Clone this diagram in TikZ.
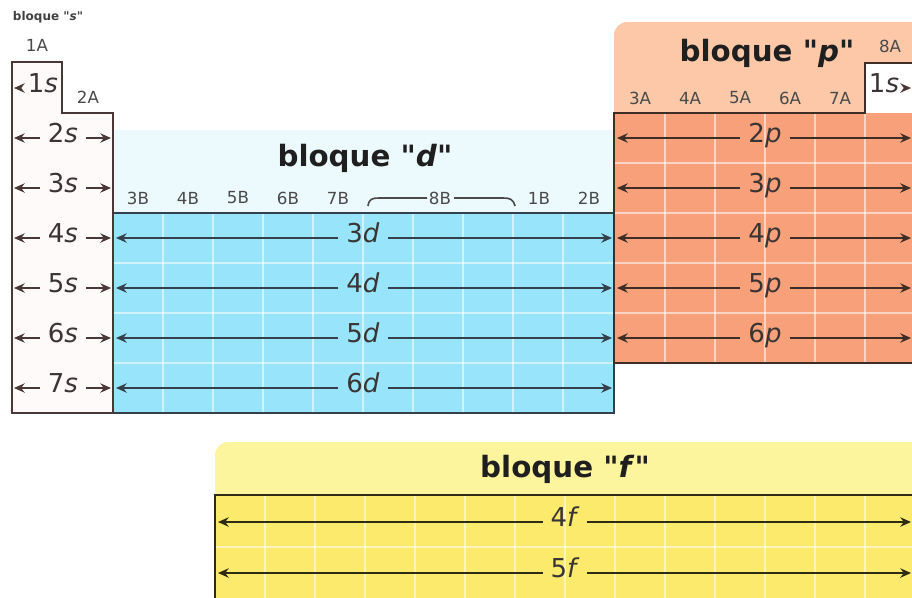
\documentclass[tikz,border=0pt]{standalone}
\usepackage{fontspec}
\setmainfont{DejaVu Sans}
\newfontfamily\dqfont{DejaVu Sans}
\usetikzlibrary{arrows.meta}
\newcommand\dqmark{{\dqfont\char34\relax}}
\definecolor{sline}{HTML}{4A3838}
\definecolor{dline}{HTML}{34414D}
\definecolor{pline}{HTML}{3E2E26}
\definecolor{fline}{HTML}{2E2A14}
\definecolor{dfill}{HTML}{98E4FA}
\definecolor{dhead}{HTML}{ECFAFE}
\definecolor{pfill}{HTML}{F8A07A}
\definecolor{phead}{HTML}{FCC8A8}
\definecolor{ffill}{HTML}{FBEA6C}
\definecolor{fhead}{HTML}{FDF59E}
\definecolor{labc}{HTML}{3A3434}
\definecolor{grpc}{HTML}{4A4A4A}
\begin{document}
\begin{tikzpicture}[x=0.75pt,y=-0.75pt,
  orb/.style={font=\fontsize{19.5}{19.5}\selectfont, text=labc, inner sep=0pt, outer sep=6pt, text height=0.73em, text depth=0pt},
  arrs/.style={line width=2.2pt, draw=sline, -{Stealth[length=8pt,width=7pt]}},
  arrd/.style={line width=2.2pt, draw=dline, -{Stealth[length=8pt,width=7pt]}},
  arrp/.style={line width=2.2pt, draw=pline, -{Stealth[length=8pt,width=7pt]}},
  arrf/.style={line width=2.2pt, draw=fline, -{Stealth[length=8pt,width=7pt]}},
  grp/.style={font=\fontsize{12.5}{12.5}\selectfont, text=grpc, inner sep=0pt},
  blocktitle/.style={font=\bfseries\fontsize{22}{22}\selectfont, text=black!88, inner sep=0pt},
  grid/.style={draw=white, opacity=0.55, line width=1pt},
  outline/.style={line width=2.2pt, line join=miter}]
\useasboundingbox (0,0) rectangle (912,597);
\clip (0,0) rectangle (912,597);
\fill[white] (0,0) rectangle (912,597);

% ---------- backgrounds ----------
\fill[dhead] (113,130) rectangle (614,213);
\fill[phead, rounded corners=10pt] (614,22) rectangle (940,140);
\fill[fhead, rounded corners=10pt] (215,442) rectangle (940,520);
\fill[dfill] (113,213) rectangle (614,413);
\fill[pfill] (614,113) rectangle (940,363);
\fill[ffill] (215,495) rectangle (940,620);
\fill[white!98!red] (12,62) -- (62,62) -- (62,113) -- (113,113) -- (113,413) -- (12,413) -- cycle;
\fill[white] (865,63) rectangle (940,113);

% ---------- grid lines ----------
\foreach \x in {163,213,...,563} \draw[grid] (\x,213) -- (\x,413);
\foreach \y in {263,313,363} \draw[grid] (113,\y) -- (614,\y);
\foreach \x in {665,715,765,815,865} \draw[grid] (\x,113) -- (\x,363);
\foreach \y in {163,213,263,313} \draw[grid] (614,\y) -- (915,\y);
\foreach \x in {265,315,...,865} \draw[grid] (\x,495) -- (\x,600);
\draw[grid] (215,547) -- (915,547);

% ---------- outlines ----------
\draw[outline, draw=sline] (12,62) -- (62,62) -- (62,113) -- (113,113) -- (113,413) -- (12,413) -- cycle;
\draw[outline, draw=dline] (113,213) -- (614,213) -- (614,413) -- (113,413);
\draw[outline, draw=pline] (940,363) -- (614,363) -- (614,113) -- (865,113) -- (865,63) -- (940,63);
\draw[outline, draw=fline] (215,610) -- (215,495) -- (940,495);

% ---------- titles and group labels ----------
\node[font=\bfseries\fontsize{9}{9}\selectfont, text=black!75, inner sep=0pt] (ts) at (48,17) {bloque \dqmark\textit{s}\dqmark};
\node[grp] (g1A) at (37,45) {1A};
\node[grp] (g2A) at (88,97) {2A};
\node[blocktitle] (td) at (365,158) {bloque \dqmark\textit{d}\dqmark};
\node[blocktitle] (tp) at (767,53) {bloque \dqmark\textit{p}\dqmark};
\node[blocktitle] (tf) at (565,469) {bloque \dqmark\textit{f}\dqmark};
\node[grp] (g8A) at (890,46) {8A};
\foreach \n/\x in {3A/640,4A/690,5A/740,6A/790,7A/840}
  \node[grp] (g\n) at (\x,98) {\n};
\foreach \n/\x in {3B/138,4B/188,5B/238,6B/288,7B/338,1B/539,2B/589}
  \node[grp] (g\n) at (\x,198) {\n};
\node[grp] (g8B) at (440,198) {8B};
\draw[line width=1.2pt, draw=grpc] (368,206) .. controls (369,199) and (372,198) .. (379,198) -- (427,198);
\draw[line width=1.2pt, draw=grpc] (454,198) -- (503,198) .. controls (510,198) and (513,199) .. (515,206);

% ---------- s block ----------
\node[orb] (s1) at (43,88) {1\textit{s}};
\coordinate (s1l) at (14,88);
\draw[arrs] (s1.west) -- (s1l);
\foreach \r/\n in {138/2,188/3,238/4,288/5,338/6,388/7}{
  \node[orb] (s\n) at (63,\r) {\n\textit{s}};
  \coordinate (s\n l) at (14,\r);
  \coordinate (s\n r) at (111,\r);
  \draw[arrs] (s\n.west) -- (s\n l);
  \draw[arrs] (s\n.east) -- (s\n r);
}

% ---------- d block ----------
\foreach \r/\n in {238/3,288/4,338/5,388/6}{
  \node[orb] (d\n) at (363,\r) {\n\textit{d}};
  \coordinate (d\n l) at (116,\r);
  \coordinate (d\n r) at (612,\r);
  \draw[arrd] (d\n.west) -- (d\n l);
  \draw[arrd] (d\n.east) -- (d\n r);
}

% ---------- p block ----------
\node[orb] (he) at (884,88) {1\textit{s}};
\coordinate (her) at (911,88);
\draw[arrs] (he.east) -- (her);
\foreach \r/\n in {138/2,188/3,238/4,288/5,338/6}{
  \node[orb] (p\n) at (765,\r) {\n\textit{p}};
  \coordinate (p\n l) at (617,\r);
  \coordinate (p\n r) at (911,\r);
  \draw[arrp] (p\n.west) -- (p\n l);
  \draw[arrp] (p\n.east) -- (p\n r);
}

% ---------- f block ----------
\foreach \r/\n in {522/4,573/5}{
  \node[orb] (f\n) at (565,\r) {\n\textit{f}};
  \coordinate (f\n l) at (218,\r);
  \coordinate (f\n r) at (911,\r);
  \draw[arrf] (f\n.west) -- (f\n l);
  \draw[arrf] (f\n.east) -- (f\n r);
}
\end{tikzpicture}
\end{document}
